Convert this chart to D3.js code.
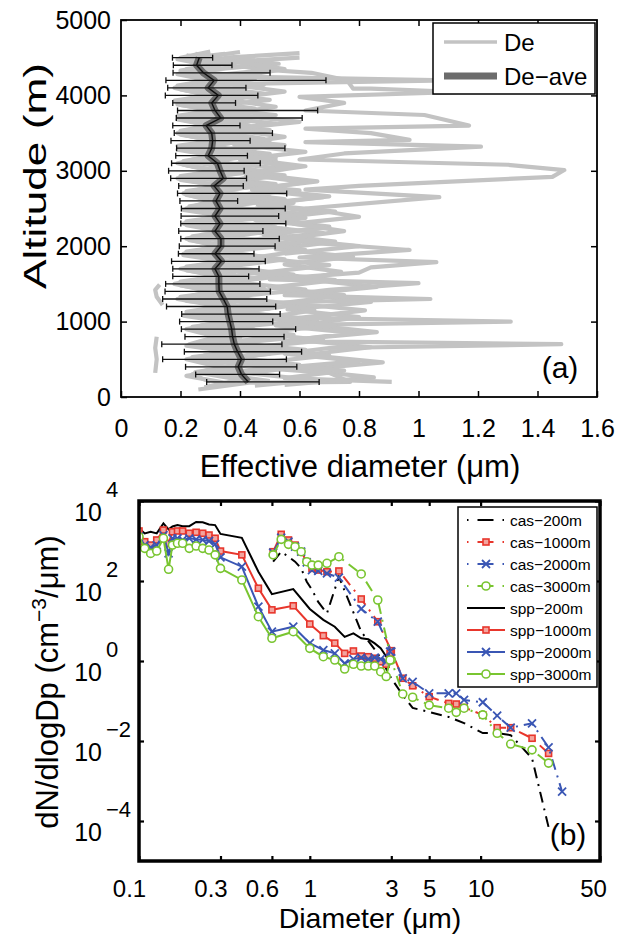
<!DOCTYPE html>
<html>
<head>
<meta charset="utf-8">
<script src="https://cdn.jsdelivr.net/npm/d3@7"></script>
<style>
  body { margin: 0; background: #fff; }
  text { font-family: "Liberation Sans", Arial, Helvetica, sans-serif; fill: #000; }
</style>
</head>
<body>
<svg id="chart" width="627" height="935"></svg>
<script>
// ---------- panel (a) data: effective diameter (um) vs altitude (m) ----------
var aveAlt = [4500, 4400, 4300, 4200, 4100, 4000, 3900, 3800, 3700, 3600, 3500, 3400, 3300, 3200, 3100,
  3000, 2900, 2800, 2700, 2600, 2500, 2400, 2300, 2200, 2100, 2000, 1900, 1800, 1700, 1600, 1500,
  1400, 1300, 1200, 1100, 1000, 900, 800, 700, 600, 500, 400, 300, 200];
var aveDe = [0.263, 0.254, 0.277, 0.313, 0.293, 0.327, 0.305, 0.316, 0.335, 0.286, 0.305, 0.308, 0.305,
  0.293, 0.324, 0.333, 0.344, 0.313, 0.333, 0.319, 0.333, 0.316, 0.333, 0.316, 0.336, 0.336, 0.316,
  0.338, 0.316, 0.329, 0.329, 0.330, 0.344, 0.357, 0.360, 0.366, 0.372, 0.375, 0.381, 0.392, 0.405,
  0.394, 0.405, 0.428];
var deLow = [0.173, 0.176, 0.175, 0.151, 0.157, 0.149, 0.174, 0.190, 0.186, 0.174, 0.179, 0.168, 0.187,
  0.184, 0.170, 0.160, 0.167, 0.194, 0.190, 0.198, 0.203, 0.202, 0.201, 0.194, 0.201, 0.196, 0.193,
  0.170, 0.174, 0.174, 0.150, 0.148, 0.140, 0.153, 0.204, 0.197, 0.203, 0.215, 0.137, 0.213, 0.140,
  0.217, 0.251, 0.288];
var deHigh = [0.308, 0.373, 0.501, 0.689, 0.420, 0.460, 0.385, 0.661, 0.609, 0.400, 0.509, 0.434, 0.551,
  0.425, 0.468, 0.414, 0.422, 0.411, 0.557, 0.392, 0.552, 0.530, 0.554, 0.477, 0.532, 0.518, 0.447,
  0.485, 0.464, 0.429, 0.467, 0.502, 0.490, 0.520, 0.535, 0.510, 0.587, 0.548, 0.541, 0.607, 0.556,
  0.591, 0.533, 0.666];

// individual profiles [altitude, De]
var flight1 = [[200,0.30],[300,0.24],[400,0.33],[500,0.22],[600,0.35],[700,0.23],[800,0.32],[900,0.22],
  [1000,0.36],[1100,0.23],[1200,0.33],[1300,0.19],[1400,0.30],[1500,0.18],[1600,0.32],[1700,0.20],
  [1800,0.34],[1900,0.21],[2000,0.32],[2100,0.22],[2200,0.35],[2300,0.21],[2400,0.33],[2500,0.22],
  [2600,0.30],[2700,0.21],[2800,0.33],[2900,0.19],[3000,0.30],[3100,0.19],[3200,0.31],[3300,0.20],
  [3400,0.30],[3500,0.19],[3600,0.28],[3700,0.20],[3800,0.31],[3900,0.19],[4000,0.30],[4100,0.18],
  [4200,0.28],[4300,0.20],[4400,0.27],[4500,0.20],[4580,0.30]];
var flight2 = [[250,0.42],[350,0.30],[450,0.48],[550,0.28],[650,0.50],[750,0.30],[850,0.46],[950,0.27],
  [1050,0.52],[1150,0.30],[1250,0.45],[1350,0.26],[1450,0.48],[1550,0.27],[1650,0.46],[1750,0.26],
  [1850,0.50],[1950,0.28],[2050,0.47],[2150,0.27],[2250,0.52],[2350,0.28],[2450,0.45],[2550,0.27],
  [2650,0.50],[2750,0.26],[2850,0.44],[2950,0.25],[3050,0.42],[3150,0.24],[3250,0.45],[3350,0.25],
  [3450,0.40],[3550,0.24],[3650,0.43],[3750,0.23],[3850,0.40],[3950,0.22],[4050,0.42],[4150,0.24],
  [4250,0.38],[4350,0.22],[4450,0.40],[4550,0.25]];
var flight3 = [[150,0.45],[225,0.65],[325,0.40],[425,0.60],[525,0.38],[625,0.62],[725,0.36],[825,0.58],
  [925,0.38],[1025,0.66],[1125,0.40],[1225,0.60],[1325,0.36],[1425,0.62],[1525,0.38],[1625,0.58],
  [1725,0.35],[1825,0.55],[1925,0.34],[2025,0.60],[2125,0.36],[2225,0.56],[2325,0.34],[2425,0.62],
  [2525,0.35],[2625,0.55],[2725,0.32],[2825,0.52],[2925,0.30],[3025,0.55],[3125,0.30],[3225,0.50],
  [3325,0.28],[3425,0.48],[3525,0.30],[3625,0.52],[3725,0.28],[3825,0.45],[3925,0.26],[4025,0.48],
  [4125,0.28],[4225,0.45],[4325,0.26],[4420,0.53],[4500,0.35],[4560,0.60]];
var flight4 = [[100,0.26],[190,0.43],[200,0.77],[320,0.70],[375,0.50],[475,0.80],[575,0.55],[650,0.70],
  [700,1.48],[740,0.55],[850,0.78],[950,0.52],[1000,1.31],[1050,0.60],[1150,0.82],[1250,0.55],
  [1350,0.75],[1450,0.50],[1550,0.72],[1650,0.48],[1750,0.70],[1850,0.45],[1950,0.62],[2075,0.42],
  [2175,0.68],[2275,0.45],[2375,0.62],[2475,0.42],[2575,0.58],[2675,0.40],[2775,0.55],[2875,0.38],
  [2975,0.50],[3075,0.36],[3175,0.52],[3275,0.34],[3375,0.50],[3475,0.32],[3575,0.46],[3675,0.30],
  [3775,0.44],[3875,0.30],[3975,0.42],[4075,0.30],[4175,0.40]];
var flight5 = [[1900,0.55],[2000,0.80],[2100,0.55],[2200,0.75],[2300,0.58],[2390,0.80],[2500,0.62],
  [2650,1.07],[2750,0.62],[2800,0.80],[2920,1.45],[3010,1.49],[3080,1.30],[3150,0.60],[3230,0.75],
  [3320,1.21],[3380,0.62],[3410,0.97],[3500,0.84],[3560,0.62],[3600,1.17],[3740,1.02],[3800,0.62],
  [3900,0.75],[3980,0.60],[4045,1.14],[4090,0.84],[4090,0.78],[4200,0.76],[4300,0.64],[4350,0.45]];
var flight6 = [[200,0.91],[250,0.55],[350,0.75],[450,0.45],[550,0.70],[650,0.42],[750,0.68],[850,0.45],
  [950,0.72],[1050,0.48],[1150,0.65],[1250,0.50],[1300,1.04],[1350,0.55],[1420,0.70],[1510,1.00],
  [1560,0.50],[1650,0.80],[1720,0.84],[1790,1.06],[1850,0.60],[1950,0.97],[2050,0.62],[2150,0.48],
  [2250,0.70],[2350,0.45],[2450,0.66],[2550,0.46],[2650,0.68],[2750,0.44],[2850,0.62],[2950,0.42],
  [3050,0.58],[3150,0.40],[3250,0.62],[3350,0.38],[3450,0.55],[3550,0.36],[3650,0.60],[3750,0.35],
  [3850,0.52],[3950,0.34],[4050,0.55],[4150,0.36],[4200,1.10],[4250,0.40],[4350,0.55],[4450,0.38],
  [4500,0.60]];
var flight7 = [[275,0.35],[375,0.55],[475,0.30],[575,0.50],[675,0.28],[775,0.55],[875,0.30],[975,0.48],
  [1075,0.25],[1175,0.50],[1275,0.22],[1375,0.42],[1475,0.24],[1575,0.44],[1675,0.25],[1775,0.42],
  [1875,0.24],[1975,0.40],[2075,0.25],[2175,0.42],[2275,0.26],[2375,0.40],[2475,0.24],[2575,0.44],
  [2675,0.24],[2775,0.38],[2875,0.22],[2975,0.36],[3075,0.22],[3175,0.38],[3275,0.22],[3375,0.36],
  [3475,0.21],[3575,0.35],[3675,0.21],[3775,0.36],[3875,0.20],[3975,0.35],[4075,0.21],[4175,0.34],
  [4275,0.21],[4375,0.33],[4475,0.22],[4575,0.40]];
var flight8 = [[130,0.28],[230,0.40],[330,0.25],[430,0.42],[530,0.24],[630,0.44],[730,0.26],[830,0.40],
  [930,0.24],[1030,0.42],[1130,0.22],[1230,0.38],[1330,0.20],[1430,0.40],[1530,0.20],[1630,0.38],
  [1730,0.22],[1830,0.42],[1930,0.22],[2030,0.40],[2130,0.24],[2230,0.42],[2330,0.22],[2430,0.40],
  [2530,0.23],[2630,0.42],[2730,0.22],[2830,0.40],[2930,0.20],[3030,0.38],[3130,0.21],[3230,0.36],
  [3330,0.19],[3430,0.37],[3530,0.20],[3630,0.34],[3730,0.19],[3830,0.36],[3930,0.18],[4030,0.35],
  [4130,0.19],[4230,0.34],[4330,0.20],[4430,0.36],[4530,0.22]];
var flight9 = [[160,0.55],[260,0.85],[360,0.60],[460,0.88],[560,0.62],[660,0.84],[760,0.58],[860,0.86],
  [960,0.62],[1060,0.80],[1160,0.56],[1260,0.84],[1360,0.60],[1460,0.86],[1560,0.62],[1660,0.74],
  [1760,0.55],[1860,0.78],[1960,0.52],[2060,0.72],[2160,0.50],[2260,0.70],[2360,0.48],[2460,0.72],
  [2560,0.46],[2660,0.70],[2760,0.45],[2860,0.66],[2960,0.44],[3060,0.62],[3160,0.42]];
var flight10 = [[2040,0.35],[2140,0.55],[2240,0.32],[2340,0.58],[2440,0.33],[2540,0.56],[2640,0.30],
  [2740,0.60],[2840,0.32],[2940,0.55],[3040,0.30],[3140,0.52],[3240,0.28],[3340,0.55],[3440,0.27],
  [3540,0.50],[3640,0.28],[3740,0.52],[3840,0.26],[3940,0.50],[4040,0.27],[4140,0.48],[4240,0.25],
  [4340,0.50],[4440,0.27],[4520,0.45]];
var flight11 = [[180,0.36],[280,0.22],[380,0.38],[480,0.25],[580,0.40],[680,0.22],[780,0.40],[880,0.25],
  [980,0.38],[1080,0.21],[1180,0.40],[1280,0.24],[1380,0.36],[1480,0.20],[1580,0.40],[1680,0.22],
  [1780,0.38],[1880,0.21],[1980,0.38],[2080,0.23],[2180,0.36],[2280,0.22],[2380,0.38],[2480,0.21],
  [2580,0.36],[2680,0.22],[2780,0.37],[2880,0.20],[2980,0.36],[3080,0.21],[3180,0.34],[3280,0.19],
  [3380,0.35],[3480,0.20],[3580,0.33],[3680,0.19],[3780,0.34],[3880,0.19],[3980,0.33],[4080,0.20],
  [4180,0.32],[4280,0.19],[4380,0.32],[4480,0.19],[4550,0.35]];
var flight12 = [[210,0.50],[310,0.32],[410,0.55],[510,0.34],[610,0.52],[710,0.33],[810,0.55],[910,0.32],
  [1010,0.50],[1110,0.30],[1210,0.52],[1310,0.30],[1410,0.50],[1510,0.29],[1610,0.52],[1710,0.30],
  [1810,0.48],[1910,0.30],[2010,0.50],[2110,0.30],[2210,0.48],[2310,0.30],[2410,0.50],[2510,0.29],
  [2610,0.47],[2710,0.28],[2810,0.48],[2910,0.27],[3010,0.45],[3110,0.27],[3210,0.44],[3310,0.26],
  [3410,0.44],[3510,0.26],[3610,0.42],[3710,0.25],[3810,0.42],[3910,0.25],[4010,0.40],[4110,0.24],
  [4210,0.42],[4310,0.24],[4410,0.45],[4510,0.28]];
var lowSegA = [[1220,0.14],[1330,0.12],[1420,0.115],[1490,0.13]];
var lowSegB = [[320,0.115],[500,0.12],[650,0.115],[800,0.12]];

// ---------- panel (b) data: size distributions ----------
var sppD = [0.100, 0.108, 0.117, 0.127, 0.139, 0.149, 0.157, 0.168, 0.180, 0.197, 0.216, 0.236, 0.257,
  0.279, 0.300, 0.400, 0.500, 0.600, 0.800, 1.00, 1.20, 1.40, 1.60, 1.80, 2.00, 2.20, 2.40, 2.60, 2.80, 2.95];
var spp200 = [2100, 1550, 1700, 1550, 2750, 1950, 2300, 2500, 2350, 2350, 3000, 2950, 2600, 2500, 1500,
  1200, 170, 47, 63, 20, 10.7, 7.2, 4.0, 4.9, 3.7, 3.5, 2.75, 2.1, 1.3, 1.9];
var spp1000 = [1780, 960, 790, 1060, 1880, 870, 1700, 1780, 1780, 1560, 1650, 1560, 1410, 1170, 560,
  450, 66, 19, 24, 8.4, 4.3, 2.8, 1.55, 1.78, 1.33, 1.28, 1.17, 0.96, 0.83, 1.55];
var spp2000 = [1280, 790, 695, 790, 1410, 490, 1170, 1170, 1060, 1170, 1100, 1060, 1000, 840, 390,
  228, 23, 5.4, 7.2, 2.8, 1.88, 1.55, 0.87, 1.12, 1.21, 1.12, 1.21, 1.12, 0.96, 1.71];
var spp3000 = [1280, 655, 490, 560, 1170, 196, 790, 875, 875, 655, 750, 655, 595, 450, 207,
  106, 12.8, 3.7, 5.4, 2.07, 1.28, 1.06, 0.63, 0.83, 0.75, 0.75, 0.75, 0.54, 0.41, 1.06];

var casD = [0.61, 0.68, 0.75, 0.82, 0.89, 0.96, 1.03, 1.12, 1.26, 1.48, 2.0, 2.5, 3.0, 3.5, 4.0, 5.0,
  6.5, 7.2, 8.0, 10.3, 12.5, 15, 20, 25, 30];
var cas200 = [304, 540, 405, 304, 207, 96, 60, 30, 15.6, 128, 5.4, 1.55, 0.37, 0.14, 0.067, 0.053,
  0.04, 0.0335, 0.028, 0.0158, 0.0158, 0.014, 0.0037, 0.00007];
var cas1000 = [540, 1470, 1060, 790, 540, 304, 207, 188, 171, 178, 35.5, 9.6, 1.81, 0.37, 0.24, 0.128,
  0.087, 0.084, 0.069, 0.045, 0.0215, 0.0215, 0.0117, 0.0049];
var cas2000 = [510, 1210, 960, 720, 540, 293, 188, 178, 155, 121, 20, 9.6, 1.71, 0.37, 0.30, 0.156,
  0.156, 0.156, 0.106, 0.093, 0.043, 0.0215, 0.0277, 0.0069, 0.00054];
var cas3000 = [450, 1100, 825, 720, 540, 304, 250, 250, 277, 405, 150, 33.5, 1.06, 0.15, 0.124, 0.079,
  0.066, 0.052, 0.066, 0.045, 0.0156, 0.0084, 0.006, 0.0028];

var xTicksB = [0.1, 0.3, 0.6, 1, 3, 5, 10, 50];
var yExpB = [4, 2, 0, -2, -4];

var RED = "#e8362c", BLUE = "#3a56b4", GREEN = "#79c530";

var svg = d3.select("#chart");

// ================= panel (a) =================
var xA = d3.scaleLinear().domain([0, 1.6]).range([121, 597]);
var yA = d3.scaleLinear().domain([0, 5000]).range([397, 20]);

svg.append("clipPath").attr("id", "clipA").append("rect")
  .attr("x", 121).attr("y", 20).attr("width", 476).attr("height", 377);

var gA = svg.append("g").attr("clip-path", "url(#clipA)");
var profLine = d3.line().x(function (d) { return xA(d[1]); }).y(function (d) { return yA(d[0]); });

[flight1, flight2, flight3, flight7, flight8, flight11, flight12, flight10, flight9, flight4, flight6,
  flight5, lowSegA, lowSegB].forEach(function (f) {
    gA.append("path").attr("d", profLine(f))
      .attr("fill", "none").attr("stroke", "#c3c3c3").attr("stroke-width", 4.2)
      .attr("stroke-linejoin", "round");
  });

var ave = aveAlt.map(function (a, i) { return { alt: a, de: aveDe[i], lo: deLow[i], hi: deHigh[i] }; });
var aveLine = d3.line().x(function (d) { return xA(d.de); }).y(function (d) { return yA(d.alt); });

gA.append("path").attr("d", aveLine(ave))
  .attr("fill", "none").attr("stroke", "#6c6c6c").attr("stroke-width", 7).attr("stroke-linejoin", "round");

// error bars
var eb = gA.append("g").attr("stroke", "#111").attr("stroke-width", 1.3);
eb.selectAll("line.bar").data(ave).enter().append("line")
  .attr("x1", function (d) { return xA(d.lo); }).attr("x2", function (d) { return xA(d.hi); })
  .attr("y1", function (d) { return yA(d.alt); }).attr("y2", function (d) { return yA(d.alt); });
eb.selectAll("line.capl").data(ave).enter().append("line")
  .attr("x1", function (d) { return xA(d.lo); }).attr("x2", function (d) { return xA(d.lo); })
  .attr("y1", function (d) { return yA(d.alt) - 3; }).attr("y2", function (d) { return yA(d.alt) + 3; });
eb.selectAll("line.caph").data(ave).enter().append("line")
  .attr("x1", function (d) { return xA(d.hi); }).attr("x2", function (d) { return xA(d.hi); })
  .attr("y1", function (d) { return yA(d.alt) - 3; }).attr("y2", function (d) { return yA(d.alt) + 3; });
gA.append("path").attr("d", aveLine(ave))
  .attr("fill", "none").attr("stroke", "#111").attr("stroke-width", 1.4);

// axes (a)
function styleAxis(g, fs) {
  g.select(".domain").remove();
  g.selectAll(".tick line").attr("stroke", "#000").attr("stroke-width", 1.5);
  g.selectAll(".tick text").attr("font-size", fs).attr("font-family", "Liberation Sans, Arial, sans-serif");
}
svg.append("g").attr("transform", "translate(0,397)")
  .call(d3.axisBottom(xA).tickValues([0, 0.2, 0.4, 0.6, 0.8, 1, 1.2, 1.4, 1.6])
    .tickFormat(function (d) { return String(+d.toFixed(1)); }).tickSize(-6).tickPadding(22))
  .call(styleAxis, 25);
svg.append("g").attr("transform", "translate(0,20)")
  .call(d3.axisTop(xA).tickValues([0.2, 0.4, 0.6, 0.8, 1, 1.2, 1.4]).tickFormat("").tickSize(-6))
  .call(styleAxis, 25);
svg.append("g").attr("transform", "translate(121,0)")
  .call(d3.axisLeft(yA).tickValues([0, 1000, 2000, 3000, 4000, 5000]).tickFormat(d3.format("d"))
    .tickSize(-6).tickPadding(10))
  .call(styleAxis, 25);
svg.append("g").attr("transform", "translate(597,0)")
  .call(d3.axisRight(yA).tickValues([1000, 2000, 3000, 4000]).tickFormat("").tickSize(-6))
  .call(styleAxis, 25);
svg.append("rect").attr("x", 121).attr("y", 20).attr("width", 476).attr("height", 377)
  .attr("fill", "none").attr("stroke", "#000").attr("stroke-width", 1.8);

// legend (a)
var legA = svg.append("g");
legA.append("rect").attr("x", 433).attr("y", 23).attr("width", 162).attr("height", 71)
  .attr("fill", "#fff").attr("stroke", "#000").attr("stroke-width", 1.5);
legA.append("line").attr("x1", 444).attr("x2", 497).attr("y1", 42).attr("y2", 42)
  .attr("stroke", "#c3c3c3").attr("stroke-width", 3.5);
legA.append("line").attr("x1", 444).attr("x2", 497).attr("y1", 76).attr("y2", 76)
  .attr("stroke", "#6c6c6c").attr("stroke-width", 7);
legA.append("text").attr("x", 504).attr("y", 51).attr("font-size", 24).text("De");
legA.append("text").attr("x", 504).attr("y", 85).attr("font-size", 24).text("De\u2212ave");

svg.append("text").attr("x", 560).attr("y", 378).attr("font-size", 30).attr("text-anchor", "middle").text("(a)");
svg.append("text").attr("x", 360).attr("y", 477).attr("font-size", 31).attr("text-anchor", "middle")
  .text("Effective diameter (\u03bcm)");
svg.append("text").attr("transform", "translate(46,176) rotate(-90)").attr("font-size", 31)
  .attr("text-anchor", "middle").attr("textLength", 226).attr("lengthAdjust", "spacingAndGlyphs")
  .text("Altitude (m)");

// ================= panel (b) =================
var xB = d3.scaleLog().domain([0.1, 50]).range([139, 600]);
var yB = d3.scaleLog().domain([1e-5, 1e4]).range([861, 501]);

svg.append("clipPath").attr("id", "clipB").append("rect")
  .attr("x", 139).attr("y", 501).attr("width", 461).attr("height", 360);
var gB = svg.append("g").attr("clip-path", "url(#clipB)");

var series = [
  { name: "cas\u2212200m", x: casD, y: cas200, color: "#000", dash: "11,6,2,6", mark: null },
  { name: "cas\u22121000m", x: casD, y: cas1000, color: RED, dash: "11,6,2,6", mark: "square" },
  { name: "cas\u22122000m", x: casD, y: cas2000, color: BLUE, dash: "11,6,2,6", mark: "x" },
  { name: "cas\u22123000m", x: casD, y: cas3000, color: GREEN, dash: "11,6,2,6", mark: "circle" },
  { name: "spp\u2212200m", x: sppD, y: spp200, color: "#000", dash: null, mark: null },
  { name: "spp\u22121000m", x: sppD, y: spp1000, color: RED, dash: null, mark: "square" },
  { name: "spp\u22122000m", x: sppD, y: spp2000, color: BLUE, dash: null, mark: "x" },
  { name: "spp\u22123000m", x: sppD, y: spp3000, color: GREEN, dash: null, mark: "circle" }
];

function drawMarker(g, kind, cx, cy, color) {
  if (kind === "square") {
    g.append("rect").attr("x", cx - 3).attr("y", cy - 3).attr("width", 6).attr("height", 6)
      .attr("fill", "#f3a49e").attr("stroke", color).attr("stroke-width", 1.6);
  } else if (kind === "x") {
    g.append("path").attr("d", "M" + (cx - 4) + "," + (cy - 4) + "L" + (cx + 4) + "," + (cy + 4) +
      "M" + (cx - 4) + "," + (cy + 4) + "L" + (cx + 4) + "," + (cy - 4))
      .attr("stroke", color).attr("stroke-width", 1.8);
  } else if (kind === "circle") {
    g.append("circle").attr("cx", cx).attr("cy", cy).attr("r", 4)
      .attr("fill", "#fff").attr("stroke", color).attr("stroke-width", 1.6);
  }
}

series.forEach(function (s) {
  var pts = s.y.map(function (v, i) { return [s.x[i], v]; });
  var line = d3.line().x(function (d) { return xB(d[0]); }).y(function (d) { return yB(d[1]); });
  var p = gB.append("path").attr("d", line(pts)).attr("fill", "none")
    .attr("stroke", s.color).attr("stroke-width", 2);
  if (s.dash) p.attr("stroke-dasharray", s.dash);
  if (s.mark) {
    var mg = gB.append("g");
    pts.forEach(function (d) { drawMarker(mg, s.mark, xB(d[0]), yB(d[1]), s.color); });
  }
});

// axes (b)
function styleAxisB(g, fs) {
  g.select(".domain").remove();
  g.selectAll(".tick line").attr("stroke", "#000").attr("stroke-width", 2.2);
  g.selectAll(".tick text").attr("font-size", fs).attr("font-family", "Liberation Sans, Arial, sans-serif");
}
var xAxB = svg.append("g").attr("transform", "translate(0,861)")
  .call(d3.axisBottom(xB).tickValues(xTicksB).tickFormat(function (d) { return String(d); })
    .tickSize(-5).tickPadding(19))
  .call(styleAxisB, 24);
// decimal labels sit slightly left of their ticks in the reference
xAxB.selectAll(".tick text").attr("dx", function (d) { return d < 1 ? -10 : (d >= 50 ? -7 : 0); });
svg.append("g").attr("transform", "translate(0,501)")
  .call(d3.axisTop(xB).tickValues(xTicksB).tickFormat("").tickSize(-5))
  .call(styleAxisB, 24);
var yTickVals = yExpB.map(function (e) { return Math.pow(10, e); });
svg.append("g").attr("transform", "translate(139,0)")
  .call(d3.axisLeft(yB).tickValues(yTickVals).tickFormat("").tickSize(-5))
  .call(styleAxisB, 24);
svg.append("g").attr("transform", "translate(600,0)")
  .call(d3.axisRight(yB).tickValues(yTickVals).tickFormat("").tickSize(-5))
  .call(styleAxisB, 24);

var ylab = svg.append("g");
yExpB.forEach(function (e) {
  var ty = yB(Math.pow(10, e));
  ylab.append("text").attr("x", 102).attr("y", ty + 20).attr("font-size", 25)
    .attr("text-anchor", "end").text("10");
  ylab.append("text").attr("x", 106).attr("y", ty - 4).attr("font-size", 22)
    .text(e < 0 ? "\u2212" + Math.abs(e) : String(e));
});

svg.append("rect").attr("x", 139).attr("y", 501).attr("width", 461).attr("height", 360)
  .attr("fill", "none").attr("stroke", "#000").attr("stroke-width", 3.5);

// legend (b)
var legB = svg.append("g");
legB.append("rect").attr("x", 458).attr("y", 507).attr("width", 139).attr("height", 180)
  .attr("fill", "#fff").attr("stroke", "#000").attr("stroke-width", 1.5);
series.forEach(function (s, i) {
  var ly = 520 + i * 22;
  var l = legB.append("line").attr("x1", 467).attr("x2", 505).attr("y1", ly).attr("y2", ly)
    .attr("stroke", s.color).attr("stroke-width", 2);
  if (s.dash) l.attr("stroke-dasharray", "1.5,9,16,9,1.5");
  if (s.mark) drawMarker(legB, s.mark, 486, ly, s.color);
  legB.append("text").attr("x", 510).attr("y", ly + 6).attr("font-size", 15.5).text(s.name);
});

svg.append("text").attr("x", 568).attr("y", 845).attr("font-size", 30).attr("text-anchor", "middle").text("(b)");
svg.append("text").attr("x", 370).attr("y", 928).attr("font-size", 28.5).attr("text-anchor", "middle")
  .text("Diameter (\u03bcm)");
var yt = svg.append("text").attr("transform", "translate(58,682) rotate(-90)").attr("font-size", 31)
  .attr("text-anchor", "middle");
yt.append("tspan").text("dN/dlogDp (cm");
yt.append("tspan").attr("dy", -12).attr("font-size", 21).text("\u22123");
yt.append("tspan").attr("dy", 12).text("/\u03bcm)");
</script>
</body>
</html>
